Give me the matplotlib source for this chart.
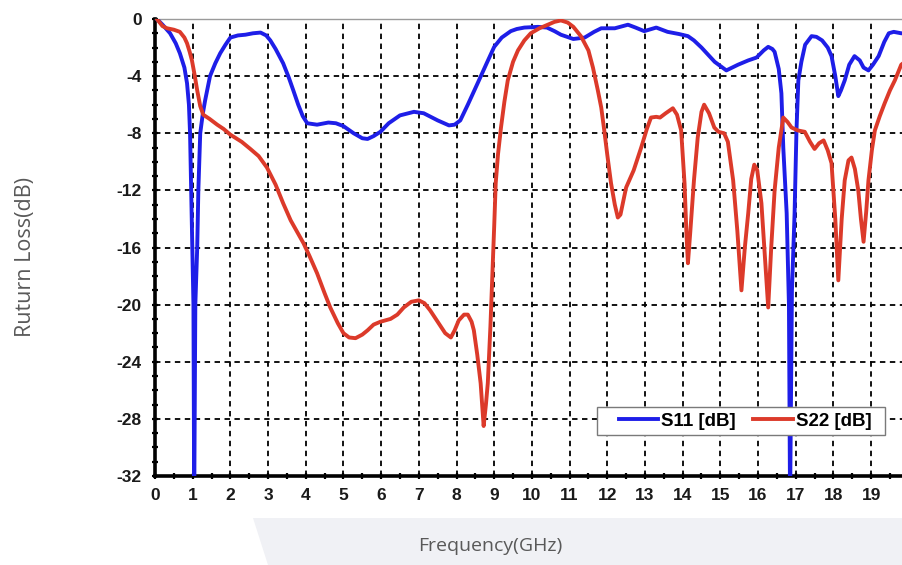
import matplotlib
matplotlib.use("Agg")
import matplotlib.pyplot as plt
from matplotlib.patches import Polygon, Rectangle
from matplotlib.ticker import MultipleLocator

s11_f = [0.05, 0.2, 0.4, 0.55, 0.66, 0.78, 0.85, 0.9, 0.93, 0.96, 0.99, 1.02, 1.04, 1.07, 1.12, 1.15, 1.2,
         1.27, 1.33, 1.46, 1.6, 1.73, 1.87, 2.0, 2.2, 2.4, 2.6, 2.8, 2.95, 3.06, 3.2, 3.4, 3.55, 3.67, 3.8,
         3.92, 4.04, 4.3, 4.6, 4.8, 5.0, 5.27, 5.5, 5.64, 5.8, 5.98, 6.2, 6.5, 6.87, 7.13, 7.5, 7.8, 7.95,
         8.1, 8.3, 8.56, 8.8, 9.0, 9.2, 9.44, 9.6, 9.8, 10.16, 10.4, 10.6, 10.77, 11.1, 11.4, 11.65, 11.84,
         12.2, 12.55, 12.75, 12.98, 13.3, 13.6, 13.9, 14.14, 14.3, 14.5, 14.85, 15.16, 15.47, 15.74, 15.96,
         16.15, 16.27, 16.38, 16.44, 16.55, 16.62, 16.67, 16.76, 16.82, 16.85, 16.9, 16.97, 17.02, 17.07,
         17.15, 17.25, 17.42, 17.55, 17.7, 17.85, 17.95, 18.05, 18.13, 18.2, 18.3, 18.42, 18.56, 18.7, 18.8,
         18.93, 19.05, 19.2, 19.35, 19.47, 19.6, 19.8, 20.0]
s11_db = [0, -0.4, -1.0, -1.7, -2.4, -3.4, -4.5, -6.0, -8, -12, -16, -20, -34, -20, -16, -12, -8,
          -6.6, -5.7, -4.0, -3.1, -2.4, -1.8, -1.3, -1.15, -1.1, -1.0, -0.95, -1.15, -1.5, -2.1, -3.1, -4.1,
          -5.0, -6.0, -6.8, -7.3, -7.4, -7.25, -7.3, -7.5, -8.0, -8.35, -8.4, -8.2, -7.9, -7.3, -6.75, -6.5,
          -6.6, -7.1, -7.45, -7.4, -7.1, -6.0, -4.5, -3.1, -1.95, -1.3, -0.85, -0.7, -0.6, -0.55, -0.6,
          -0.85, -1.1, -1.4, -1.3, -0.9, -0.65, -0.65, -0.4, -0.6, -0.85, -0.6, -0.9, -1.05, -1.2, -1.5,
          -2.0, -3.0, -3.6, -3.2, -2.9, -2.7, -2.2, -1.95, -2.1, -2.3, -3.5, -5.2, -9, -13.6, -20, -34, -19,
          -13.6, -7.8, -4.3, -3.0, -1.8, -1.2, -1.25, -1.5, -2.0, -2.6, -4.0, -5.4, -5.0, -4.3, -3.2, -2.6,
          -2.9, -3.4, -3.6, -3.2, -2.6, -1.6, -1.0, -0.9, -1.0, -1.0]

s22_f = [0.05, 0.2, 0.32, 0.5, 0.66, 0.78, 0.85, 0.92, 0.98, 1.05, 1.12, 1.2, 1.28, 1.45, 1.65, 1.82, 2.0,
         2.3, 2.53, 2.75, 2.97, 3.2, 3.4, 3.6, 3.94, 4.1, 4.3, 4.5, 4.65, 4.85, 5.0, 5.15, 5.32, 5.5, 5.64,
         5.8, 5.98, 6.25, 6.43, 6.6, 6.8, 7.0, 7.15, 7.3, 7.5, 7.7, 7.85, 7.95, 8.06, 8.2, 8.3, 8.4, 8.46,
         8.55, 8.64, 8.72, 8.78, 8.83, 8.9, 8.96, 9.0, 9.04, 9.1, 9.18, 9.27, 9.36, 9.5, 9.63, 9.8, 9.97,
         10.2, 10.42, 10.6, 10.77, 10.95, 11.1, 11.3, 11.5, 11.62, 11.75, 11.84, 11.92, 12.0, 12.1, 12.2,
         12.28, 12.35, 12.5, 12.7, 12.9, 13.05, 13.16, 13.3, 13.4, 13.55, 13.74, 13.85, 13.96, 14.05, 14.1,
         14.14, 14.2, 14.3, 14.4, 14.5, 14.57, 14.7, 14.84, 14.95, 15.1, 15.2, 15.34, 15.45, 15.56, 15.65,
         15.74, 15.82, 15.9, 15.98, 16.09, 16.18, 16.27, 16.35, 16.44, 16.55, 16.67, 16.78, 16.89, 17.05,
         17.24, 17.38, 17.5, 17.62, 17.74, 17.85, 17.95, 18.05, 18.13, 18.22, 18.3, 18.4, 18.48, 18.57,
         18.66, 18.73, 18.8, 18.87, 18.93, 19.02, 19.1, 19.23, 19.36, 19.5, 19.63, 19.8, 20.0]
s22_db = [0, -0.5, -0.65, -0.75, -0.9, -1.3, -1.7, -2.3, -2.9, -3.9, -5.0, -6.1, -6.7, -7.0, -7.4, -7.7,
          -8.1, -8.6, -9.1, -9.6, -10.4, -11.6, -12.9, -14.1, -15.7, -16.6, -17.8, -19.2, -20.2, -21.3,
          -22.0, -22.3, -22.35, -22.1, -21.8, -21.4, -21.2, -21.0, -20.7, -20.2, -19.8, -19.7, -19.9, -20.4,
          -21.2, -22.0, -22.3, -21.8, -21.1, -20.7, -20.7, -21.2, -21.8, -23.5, -25.5, -28.5, -27.0, -25.5,
          -21.5, -17.4, -14.5, -11.5, -9.5, -7.6, -5.8, -4.3, -3.0, -2.2, -1.5, -1.0, -0.65, -0.4, -0.2,
          -0.1, -0.25, -0.55, -1.2, -2.2, -3.4, -5.0, -6.2, -7.8, -9.5, -11.5, -13.0, -13.9, -13.7, -11.8,
          -10.6, -9.0, -7.7, -6.9, -6.85, -6.9, -6.6, -6.25, -6.7, -7.8, -11.5, -15.0, -17.1, -15.0, -11.3,
          -8.3, -6.5, -6.0, -6.6, -7.6, -7.9, -8.0, -8.6, -11.3, -14.8, -19.0, -16.0, -13.6, -11.2, -10.2,
          -10.6, -12.9, -16.5, -20.2, -16.0, -12.0, -9.0, -6.9, -7.2, -7.6, -7.8, -7.9, -8.6, -9.1, -8.7,
          -8.5, -9.2, -10.1, -14.0, -18.3, -14.0, -11.3, -9.9, -9.7, -10.5, -12.0, -14.0, -15.6, -13.5,
          -11.3, -9.2, -7.8, -6.8, -5.9, -5.0, -4.3, -3.2, -2.8]

x_ticks = list(range(0, 20))
x_labels = [str(v) for v in x_ticks]
y_ticks = list(range(0, -33, -4))
y_labels = [str(v) for v in y_ticks]
series_names = ["S11 [dB]", "S22 [dB]"]
x_title = "Frequency(GHz)"
y_title = "Ruturn Loss(dB)"

fig = plt.figure(figsize=(9.02, 5.65), dpi=100)
W, H = 902.0, 565.0
ax = fig.add_axes([155 / W, (H - 476) / H, (902 - 155) / W, (476 - 19) / H])

# grey band decoration at bottom
band = Polygon([[253 / W, 1 - 518 / H], [1.0, 1 - 518 / H], [1.0, 0.0], [268 / W, 0.0]],
               closed=True, transform=fig.transFigure, facecolor="#f0f1f5", edgecolor="none", zorder=0)
fig.patches.append(band)

ax.plot(s11_f, s11_db, color="#1e1ee8", lw=2.8, label=series_names[0], zorder=3, solid_joinstyle="round")
ax.plot(s22_f, s22_db, color="#dc3a2a", lw=2.8, label=series_names[1], zorder=3, solid_joinstyle="round")

ax.set_xlim(0, 19.82)
ax.set_ylim(-32, 0)
ax.set_xticks(x_ticks)
ax.set_xticklabels(x_labels)
ax.set_yticks(y_ticks)
ax.set_yticklabels(y_labels)
ax.xaxis.set_minor_locator(MultipleLocator(0.5))
ax.yaxis.set_minor_locator(MultipleLocator(1))

for lab in ax.get_xticklabels() + ax.get_yticklabels():
    lab.set_fontfamily("Liberation Sans")
    lab.set_fontweight("bold")
    lab.set_fontsize(12.5)
    lab.set_color("#1a1a1a")

ax.tick_params(axis="both", which="major", direction="inout", length=5, width=1.6, color="black")
ax.tick_params(axis="both", which="minor", direction="inout", length=4, width=1.6, color="black")
ax.tick_params(axis="y", which="major", pad=7)
ax.tick_params(axis="x", which="major", pad=6)

ax.grid(True, which="major", color="black", linestyle=(0, (3, 2.5)), linewidth=1.3, zorder=1)
ax.set_axisbelow(True)

ax.spines["left"].set_linewidth(2.6)
ax.spines["bottom"].set_linewidth(2.6)
ax.spines["right"].set_visible(False)
ax.spines["top"].set_color("#9a9a9a")
ax.spines["top"].set_linewidth(1.0)

# legend frame (drawn to match the reference box) and legend entries
frame = Rectangle((0.5917, 0.0897), 0.9772 - 0.5917, 0.151 - 0.0897, transform=ax.transAxes,
                  facecolor="white", edgecolor="#7a7a7a", linewidth=1.0, zorder=4.5)
ax.add_patch(frame)
leg = ax.legend(loc="center", bbox_to_anchor=(0.7898, 0.1204), ncol=2, frameon=False,
                prop={"family": "Liberation Sans", "weight": "bold", "size": 13.5},
                handlelength=2.1, handletextpad=0.15, columnspacing=0.95, borderpad=0.0,
                borderaxespad=0.0)
leg.set_zorder(5)

fig.text(490 / W, 1 - 546 / H, x_title, ha="center", va="center", fontsize=14,
         family="Open Sans", color="#595959")
fig.text(26 / W, 1 - 257 / H, y_title, ha="center", va="center", rotation=90, fontsize=15.5,
         family="Open Sans", color="#595959")

fig.savefig("out.png", dpi=100)
